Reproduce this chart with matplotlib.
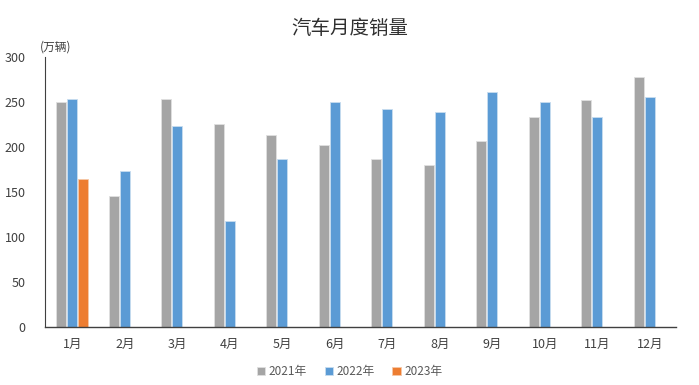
import numpy as np
import matplotlib.pyplot as plt

plt.rcParams['font.family'] = ['Noto Sans CJK SC', 'DejaVu Sans']

months = ["1月", "2月", "3月", "4月", "5月", "6月", "7月", "8月", "9月", "10月", "11月", "12月"]
sales_2021 = [250, 146, 253, 225, 213, 202, 187, 180, 207, 233, 252, 278]
sales_2022 = [253, 173, 223, 118, 187, 250, 242, 239, 261, 250, 233, 255]
sales_2023 = [164]

TEXT = '#404040'

fig = plt.figure(figsize=(6.99, 3.85), dpi=100)
ax = fig.add_axes([0.0644, 0.1506, 0.9026, 0.7014])

x = np.arange(len(months))
w = 0.21
ax.bar(x - w, sales_2021, width=0.185, color='#A5A5A5', edgecolor='#E0E0E0', linewidth=0.6, label='2021年')
ax.bar(x, sales_2022, width=0.185, color='#5B9BD5', edgecolor='#C8DDF0', linewidth=0.6, label='2022年')
ax.bar(x[:len(sales_2023)] + w, sales_2023, width=0.185, color='#ED7D31', edgecolor='#F6C8A8', linewidth=0.6, label='2023年')

ax.set_xlim(-0.52, 11.5)
ax.set_ylim(0, 300)
ax.set_yticks(range(0, 301, 50))
ax.set_xticks(x)
ax.set_xticklabels(months)
ax.tick_params(axis='both', length=0, labelsize=9, colors=TEXT)
ax.tick_params(axis='x', pad=8)
ax.tick_params(axis='y', pad=14)

for s in ['top', 'right']:
    ax.spines[s].set_visible(False)
ax.spines['left'].set_color('#404040')
ax.spines['bottom'].set_color('#404040')
ax.spines['left'].set_linewidth(0.8)
ax.spines['bottom'].set_linewidth(1.0)

fig.text(0.5, 0.927, "汽车月度销量", ha='center', va='center', fontsize=14, color='#303030')
fig.text(0.057, 0.877, "(万辆)", ha='left', va='center', fontsize=8.5, color=TEXT)

fig.legend(loc='center', bbox_to_anchor=(0.5, 0.035), ncol=3, frameon=False,
           fontsize=8.5, handlelength=0.7, handleheight=0.7, handletextpad=0.3,
           columnspacing=1.5, labelcolor='#595959')

fig.savefig('out.png', dpi=100)
